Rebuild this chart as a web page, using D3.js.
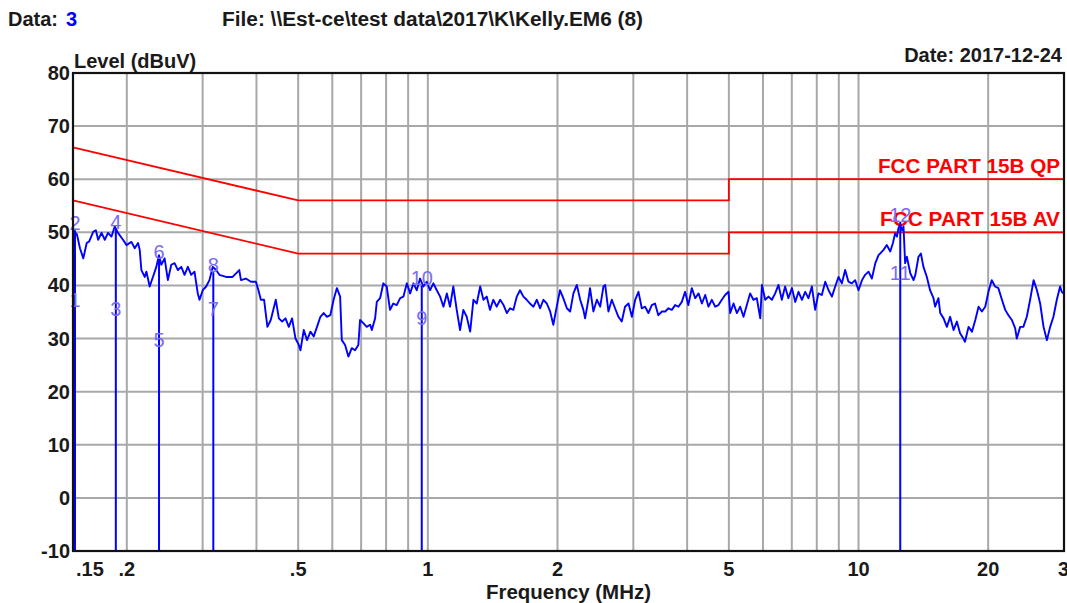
<!DOCTYPE html>
<html>
<head>
<meta charset="utf-8">
<script src="https://cdn.jsdelivr.net/npm/d3@7"></script>
<style>
  html, body { margin: 0; padding: 0; background: #fff; overflow: hidden; }
  text { font-family: "Liberation Sans", Arial, sans-serif; }
</style>
</head>
<body>
<svg id="chart" width="1067" height="603"></svg>
<script>
// scan trace (MHz / dBuV)
const freqMHz = [
  0.150, 0.1516, 0.1532, 0.1557, 0.1585, 0.1614, 0.1636, 0.1671, 0.1695, 0.1716,
  0.1747, 0.1778, 0.1809, 0.1843, 0.1875, 0.1908, 0.1960, 0.1996, 0.2050, 0.2087,
  0.2124, 0.2143, 0.2162, 0.2201, 0.2221, 0.2260, 0.2300, 0.2342, 0.2375, 0.2405,
  0.2448, 0.2491, 0.2537, 0.2582, 0.2628, 0.2676, 0.2723, 0.2772, 0.2822, 0.2872,
  0.2923, 0.2950, 0.3002, 0.3057, 0.3111, 0.3166, 0.3224, 0.3281, 0.3400, 0.3521,
  0.3649, 0.3682, 0.3781, 0.3883, 0.3988, 0.4043, 0.4095, 0.4167, 0.4241, 0.4318,
  0.4436, 0.4509, 0.4589, 0.4672, 0.4755, 0.4840, 0.4928, 0.5016, 0.5061, 0.5151,
  0.5243, 0.5338, 0.5433, 0.5529, 0.5630, 0.5730, 0.5831, 0.5937, 0.6042, 0.6150,
  0.6257, 0.6313, 0.6425, 0.6539, 0.6658, 0.6777, 0.6897, 0.6960, 0.7083, 0.7212,
  0.7346, 0.7412, 0.7543, 0.7612, 0.7747, 0.7883, 0.8027, 0.8169, 0.8314, 0.8465,
  0.8625, 0.8778, 0.8938, 0.9097, 0.9258, 0.9427, 0.9594, 0.9764, 0.9942, 1.0118,
  1.030, 1.049, 1.068, 1.087, 1.107, 1.126, 1.146, 1.167, 1.188, 1.209,
  1.231, 1.254, 1.276, 1.299, 1.323, 1.346, 1.370, 1.394, 1.419, 1.445,
  1.472, 1.499, 1.526, 1.552, 1.580, 1.609, 1.637, 1.667, 1.697, 1.726,
  1.759, 1.791, 1.823, 1.855, 1.889, 1.923, 1.956, 1.992, 2.027, 2.063,
  2.103, 2.140, 2.178, 2.218, 2.258, 2.297, 2.318, 2.359, 2.380, 2.423,
  2.469, 2.513, 2.557, 2.581, 2.626, 2.674, 2.721, 2.770, 2.820, 2.870,
  2.924, 2.977, 3.030, 3.084, 3.139, 3.195, 3.252, 3.311, 3.369, 3.429,
  3.496, 3.558, 3.620, 3.686, 3.751, 3.819, 3.888, 3.957, 4.026, 4.101,
  4.177, 4.252, 4.329, 4.406, 4.484, 4.566, 4.646, 4.729, 4.815, 4.900,
  4.991, 5.037, 5.126, 5.220, 5.312, 5.407, 5.504, 5.602, 5.701, 5.805,
  5.914, 5.967, 6.073, 6.180, 6.293, 6.405, 6.518, 6.637, 6.754, 6.873,
  7.006, 7.130, 7.256, 7.389, 7.520, 7.653, 7.793, 7.931, 8.071, 8.218,
  8.371, 8.520, 8.675, 8.828, 8.985, 9.149, 9.311, 9.476, 9.649, 9.820,
  10.00, 10.19, 10.36, 10.55, 10.74, 10.94, 11.13, 11.22, 11.43, 11.63,
  11.85, 12.02, 12.16, 12.28, 12.38, 12.49, 12.62, 12.72, 12.83, 12.95,
  13.19, 13.42, 13.55, 13.78, 13.96, 14.15, 14.41, 14.66, 14.93, 15.06,
  15.33, 15.48, 15.76, 16.04, 16.32, 16.62, 16.92, 17.21, 17.52, 17.67,
  18.01, 18.34, 18.67, 19.00, 19.34, 19.69, 20.03, 20.39, 20.75, 21.12,
  21.53, 21.91, 22.29, 22.70, 23.11, 23.31, 23.73, 24.14, 24.59, 25.03,
  25.50, 25.96, 26.41, 26.89, 27.38, 27.86, 28.35, 28.87, 29.38, 29.64,
  29.91
];
const levelDb = [
  50.3, 50.0, 49.6, 47.0, 45.1, 48.0, 48.3, 50.1, 50.4, 48.6,
  49.9, 48.6, 49.9, 49.2, 51.1, 49.9, 48.6, 47.6, 48.2, 47.0,
  48.0, 46.7, 42.9, 41.6, 42.6, 39.8, 41.6, 43.5, 45.7, 43.9,
  45.1, 41.0, 43.9, 44.2, 42.9, 43.5, 42.0, 43.5, 42.0, 42.6,
  38.5, 37.3, 39.1, 39.8, 41.0, 43.5, 42.9, 42.0, 41.6, 41.6,
  42.9, 41.0, 41.3, 40.7, 40.7, 39.1, 37.3, 37.3, 32.2, 33.5,
  37.3, 33.8, 33.2, 33.8, 32.2, 33.8, 30.0, 28.8, 27.8, 31.6,
  29.7, 31.3, 30.4, 32.2, 34.1, 34.8, 34.1, 34.4, 37.3, 39.5,
  37.9, 29.7, 28.8, 26.6, 28.2, 27.8, 28.8, 33.5, 32.9, 32.2,
  32.6, 31.6, 33.8, 36.9, 37.6, 40.4, 39.8, 35.4, 36.6, 36.3,
  37.6, 37.9, 40.4, 38.5, 40.4, 39.1, 41.3, 39.8, 40.7, 39.1,
  40.4, 39.1, 37.9, 36.0, 38.5, 36.0, 39.8, 35.4, 31.6, 35.4,
  34.1, 31.3, 37.3, 36.6, 39.8, 37.3, 37.9, 35.4, 37.3, 36.0,
  37.3, 36.3, 34.8, 35.7, 35.4, 37.9, 39.1, 37.9, 37.3, 36.6,
  36.0, 37.3, 35.7, 37.3, 36.6, 35.1, 32.6, 36.0, 39.1, 37.6,
  35.7, 35.1, 38.5, 40.1, 37.3, 35.4, 33.8, 37.3, 39.5, 35.1,
  37.3, 36.0, 39.8, 40.1, 35.1, 37.3, 35.7, 34.1, 33.2, 36.0,
  36.6, 34.1, 37.3, 38.8, 35.7, 36.0, 34.8, 36.3, 36.6, 34.4,
  35.1, 35.1, 35.7, 35.4, 36.3, 36.0, 36.9, 38.8, 36.3, 39.5,
  37.6, 38.5, 36.6, 38.2, 36.0, 37.3, 36.0, 36.3, 37.3, 38.2,
  38.8, 34.8, 36.6, 34.8, 36.0, 34.1, 36.3, 38.5, 37.3, 37.6,
  33.8, 40.1, 37.3, 37.9, 37.3, 38.5, 40.1, 37.3, 39.8, 37.6,
  39.5, 36.9, 38.8, 37.3, 38.8, 37.6, 39.8, 35.4, 38.5, 38.2,
  40.7, 39.1, 37.9, 39.8, 41.6, 40.4, 42.9, 40.7, 40.4, 41.0,
  39.1, 41.0, 42.0, 42.6, 41.3, 44.2, 45.7, 46.0, 46.7, 47.6,
  46.4, 48.0, 49.8, 49.2, 50.8, 51.4, 50.4, 51.1, 44.2, 45.4,
  42.3, 41.0, 42.0, 45.4, 46.0, 43.5, 41.6, 39.1, 37.6, 36.0,
  37.6, 34.8, 33.8, 32.2, 34.1, 31.6, 33.2, 31.0, 30.0, 29.4,
  32.2, 31.3, 33.5, 36.0, 35.1, 36.0, 38.8, 41.0, 39.8, 39.5,
  37.3, 35.4, 34.4, 33.5, 31.9, 30.0, 32.2, 32.2, 34.1, 37.3,
  41.0, 39.1, 36.6, 32.2, 29.7, 32.2, 34.1, 37.3, 39.8, 38.8,
  38.5
];

// FCC part 15B conducted limits
const limitFreqs = [0.15, 0.5, 5, 5, 30];
const qpLimit = [66, 56, 56, 60, 60];
const avLimit = [56, 46, 46, 50, 50];

// markers: even number = QP reading, odd number = AV reading
const markerFreqs = [0.1516, 0.1886, 0.2376, 0.3176, 0.968, 12.5];
const markerQP = [50.4, 50.6, 45.0, 42.5, 40.0, 52.0];
const markerAV = [36.0, 34.2, 28.4, 34.2, 32.5, 41.0];

const xTickValues = [0.15, 0.2, 0.5, 1, 2, 5, 10, 20, 30];
const xTickLabels = ['.15', '.2', '.5', '1', '2', '5', '10', '20', '30'];
const xGridValues = [0.2, 0.3, 0.4, 0.5, 0.6, 0.7, 0.8, 0.9, 1, 2, 3, 4, 5, 6, 7, 8, 9, 10, 20];
const yTickValues = [-10, 0, 10, 20, 30, 40, 50, 60, 70, 80];

const svg = d3.select('#chart');
const plot = { left: 73, right: 1064, top: 73, bottom: 551 };

const x = d3.scaleLog().domain([0.15, 30]).range([plot.left, plot.right]);
const y = d3.scaleLinear().domain([-10, 80]).range([plot.bottom, plot.top]);

// grid
svg.append('g')
  .selectAll('line')
  .data(xGridValues)
  .enter()
  .append('line')
  .attr('x1', d => x(d)).attr('x2', d => x(d))
  .attr('y1', plot.top).attr('y2', plot.bottom)
  .style('stroke', '#a8a8a8')
  .style('stroke-width', 2);

svg.append('g')
  .selectAll('line')
  .data(yTickValues.slice(1, -1))
  .enter()
  .append('line')
  .attr('x1', plot.left).attr('x2', plot.right)
  .attr('y1', d => y(d)).attr('y2', d => y(d))
  .style('stroke', '#a8a8a8')
  .style('stroke-width', 2);

// limit lines
const limitLine = (vals) => d3.line()
  .x((d, i) => x(limitFreqs[i]))
  .y((d, i) => y(vals[i]))(vals);

svg.append('path').attr('d', limitLine(qpLimit))
  .attr('fill', 'none').style('stroke', '#ff0000').style('stroke-width', 1.8);
svg.append('path').attr('d', limitLine(avLimit))
  .attr('fill', 'none').style('stroke', '#ff0000').style('stroke-width', 1.8);

svg.append('text')
  .attr('x', 1060).attr('y', 173)
  .attr('text-anchor', 'end')
  .attr('textLength', 182).attr('lengthAdjust', 'spacingAndGlyphs')
  .style('font-size', '20px').style('font-weight', 'bold')
  .style('fill', '#ff0000')
  .text('FCC PART 15B QP');
svg.append('text')
  .attr('x', 1060).attr('y', 226)
  .attr('text-anchor', 'end')
  .attr('textLength', 180).attr('lengthAdjust', 'spacingAndGlyphs')
  .style('font-size', '20px').style('font-weight', 'bold')
  .style('fill', '#ff0000')
  .text('FCC PART 15B AV');

// trace
const trace = d3.line()
  .x((d, i) => x(freqMHz[i]))
  .y(d => y(d));

svg.append('path')
  .attr('d', trace(levelDb))
  .attr('fill', 'none')
  .style('stroke', '#0000ff')
  .style('stroke-width', 1.9)
  .style('stroke-linejoin', 'round');

// markers
svg.append('g')
  .selectAll('line')
  .data(markerFreqs)
  .enter()
  .append('line')
  .attr('x1', d => x(d)).attr('x2', d => x(d))
  .attr('y1', plot.bottom).attr('y2', (d, i) => y(markerQP[i]))
  .style('stroke', '#0000ff')
  .style('stroke-width', 2);

const markerColor = '#7a6cf2';
svg.append('g')
  .selectAll('text')
  .data(markerFreqs)
  .enter()
  .append('text')
  .attr('x', d => x(d)).attr('y', (d, i) => y(markerAV[i]))
  .attr('text-anchor', 'middle')
  .style('font-size', '20px')
  .style('fill', markerColor)
  .text((d, i) => 2 * i + 1);

svg.append('g')
  .selectAll('text')
  .data(markerFreqs)
  .enter()
  .append('text')
  .attr('x', d => x(d)).attr('y', (d, i) => y(markerQP[i]))
  .attr('text-anchor', 'middle')
  .style('font-size', '20px')
  .style('fill', markerColor)
  .text((d, i) => 2 * i + 2);

// frame
svg.append('rect')
  .attr('x', plot.left).attr('y', plot.top)
  .attr('width', plot.right - plot.left).attr('height', plot.bottom - plot.top)
  .attr('fill', 'none')
  .style('stroke', '#111')
  .style('stroke-width', 2.2);

// axes labels
svg.append('g')
  .selectAll('text')
  .data(yTickValues)
  .enter()
  .append('text')
  .attr('x', 70).attr('y', d => y(d) + 7)
  .attr('text-anchor', 'end')
  .style('font-size', '20px').style('font-weight', 'bold')
  .style('fill', '#1a1a1a')
  .text(d => d);

// first label sits inside the frame, last one runs off the right edge
const lastTick = xTickValues.length - 1;
svg.append('g')
  .selectAll('text')
  .data(xTickValues)
  .enter()
  .append('text')
  .attr('x', (d, i) => i === 0 ? x(d) + 3 : i === lastTick ? x(d) - 6 : x(d))
  .attr('y', 576)
  .attr('text-anchor', (d, i) => i === 0 || i === lastTick ? 'start' : 'middle')
  .style('font-size', '20px').style('font-weight', 'bold')
  .style('fill', '#1a1a1a')
  .text((d, i) => xTickLabels[i]);

svg.append('text')
  .attr('x', (plot.left + plot.right) / 2).attr('y', 599)
  .attr('text-anchor', 'middle')
  .style('font-size', '20.5px').style('font-weight', 'bold')
  .style('fill', '#1a1a1a')
  .text('Frequency (MHz)');

svg.append('text')
  .attr('x', 74).attr('y', 68)
  .style('font-size', '20px').style('font-weight', 'bold')
  .style('fill', '#1a1a1a')
  .text('Level (dBuV)');

// header
svg.append('text')
  .attr('x', 8).attr('y', 26)
  .style('font-size', '20px').style('font-weight', 'bold')
  .style('fill', '#1a1a1a')
  .text('Data:');
svg.append('text')
  .attr('x', 66).attr('y', 26)
  .style('font-size', '20px').style('font-weight', 'bold')
  .style('fill', '#0000ff')
  .text('3');
svg.append('text')
  .attr('x', 222).attr('y', 26)
  .attr('textLength', 421)
  .attr('lengthAdjust', 'spacingAndGlyphs')
  .style('font-size', '20px').style('font-weight', 'bold')
  .style('fill', '#1a1a1a')
  .text('File: \\\\Est-ce\\test data\\2017\\K\\Kelly.EM6  (8)');
svg.append('text')
  .attr('x', 1062).attr('y', 62)
  .attr('text-anchor', 'end')
  .style('font-size', '20px').style('font-weight', 'bold')
  .style('fill', '#1a1a1a')
  .text('Date: 2017-12-24');
</script>
</body>
</html>
